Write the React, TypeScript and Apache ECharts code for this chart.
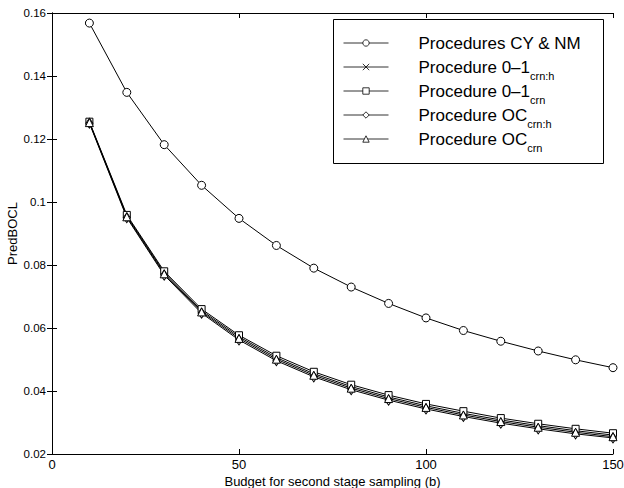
import React, { useEffect, useRef } from "react";
import * as echarts from "echarts";

const budgets = [10, 20, 30, 40, 50, 60, 70, 80, 90, 100, 110, 120, 130, 140, 150];
const cyNm = [0.1568, 0.1348, 0.1182, 0.1053, 0.0948, 0.0862, 0.079, 0.073, 0.0678, 0.0632, 0.0592, 0.0558, 0.0527, 0.0499, 0.0474];
const zeroOneCrnH = [0.1253, 0.0956, 0.0776, 0.0655, 0.0572, 0.0506, 0.0455, 0.0414, 0.0381, 0.0353, 0.0329, 0.0308, 0.029, 0.0274, 0.026];
const zeroOneCrn = [0.1255, 0.0959, 0.078, 0.066, 0.0577, 0.0512, 0.0461, 0.042, 0.0387, 0.0359, 0.0336, 0.0314, 0.0296, 0.028, 0.0266];
const ocCrnH = [0.125, 0.095, 0.0768, 0.0647, 0.0562, 0.0496, 0.0445, 0.0404, 0.0371, 0.0343, 0.0319, 0.0298, 0.028, 0.0264, 0.0251];
const ocCrn = [0.1252, 0.0953, 0.0772, 0.0651, 0.0567, 0.0501, 0.045, 0.0409, 0.0376, 0.0348, 0.0324, 0.0303, 0.0285, 0.0269, 0.0255];

const xTicks = [0, 50, 100, 150];
const yTickLabels = ["0.02", "0.04", "0.06", "0.08", "0.1", "0.12", "0.14", "0.16"];

const seriesNames = [
  "Procedures CY & NM",
  "Procedure 0–1|crn:h",
  "Procedure 0–1|crn",
  "Procedure OC|crn:h",
  "Procedure OC|crn",
];

const FONT = "'Liberation Sans', Arial, Helvetica, sans-serif";

export default function App() {
  const ref = useRef<HTMLDivElement>(null);
  useEffect(() => {
    if (!ref.current) return;
    const chart = echarts.init(ref.current, undefined, { renderer: "svg" });
    const pairs = (ys: number[]) => budgets.map((b, i) => [b, ys[i]]);
    const common = (name: string, ys: number[], symbol: string, size: any) => ({
      name,
      type: "line",
      data: pairs(ys),
      symbol,
      symbolSize: size,
      showSymbol: true,
      lineStyle: { color: "#000", width: 1 },
      itemStyle: { color: "#fff", borderColor: "#000", borderWidth: 1 },
      emphasis: { disabled: true },
      z: 3,
    });
    const axisLine = { show: true, lineStyle: { color: "#000", width: 1 } };
    const axisTick = { show: true, inside: true, length: 5, lineStyle: { color: "#000" } };
    chart.setOption({
      animation: false,
      backgroundColor: "#fff",
      grid: {
        left: 52,
        right: 11,
        top: 13,
        bottom: 34,
        containLabel: false,
        outerBoundsMode: "none",
      },
      xAxis: [
        {
          type: "value",
          min: 0,
          max: 150,
          interval: 50,
          position: "bottom",
          axisLine,
          axisTick,
          splitLine: { show: false },
          axisLabel: {
            color: "#000",
            fontSize: 13,
            fontFamily: FONT,
            margin: 4,
            formatter: (v: number) => (xTicks.includes(v) ? String(v) : ""),
          },
          name: "Budget for second stage sampling (b)",
          nameLocation: "middle",
          nameGap: 21,
          nameMoveOverlap: false,
          nameTextStyle: { color: "#000", fontSize: 13, fontFamily: FONT },
        },
        {
          type: "value",
          min: 0,
          max: 150,
          interval: 50,
          position: "top",
          axisLine,
          axisTick,
          splitLine: { show: false },
          axisLabel: { show: false },
        },
      ],
      yAxis: [
        {
          type: "value",
          min: 0.02,
          max: 0.16,
          interval: 0.02,
          position: "left",
          axisLine,
          axisTick,
          splitLine: { show: false },
          axisLabel: {
            color: "#000",
            fontSize: 11.5,
            fontFamily: FONT,
            margin: 6,
            formatter: (v: number) => {
              const i = Math.round((v - 0.02) / 0.02);
              return yTickLabels[i] ?? "";
            },
          },
          name: "PredBOCL",
          nameLocation: "middle",
          nameGap: 33,
          nameMoveOverlap: false,
          nameTextStyle: { color: "#000", fontSize: 13, fontFamily: FONT },
        },
        {
          type: "value",
          min: 0.02,
          max: 0.16,
          interval: 0.02,
          position: "right",
          axisLine,
          axisTick,
          splitLine: { show: false },
          axisLabel: { show: false },
        },
      ],
      legend: {
        show: true,
        orient: "vertical",
        left: 343,
        top: 29,
        padding: 0,
        itemGap: -4,
        itemWidth: 45,
        itemHeight: 8,
        selectedMode: false,
        data: seriesNames,
        lineStyle: { width: 1, color: "#333" },
        itemStyle: { borderWidth: 0.8 },
        formatter: (name: string) => {
          const parts = name.split("|");
          const sub = parts.length === 2 ? parts[1] : " ";
          return `{g|}{m|${parts[0]}}{s|${sub}}`;
        },
        textStyle: {
          color: "#000",
          fontFamily: FONT,
          lineHeight: 24,
          rich: {
            g: { width: 25, lineHeight: 24 },
            m: { fontSize: 17, lineHeight: 24, fontFamily: FONT, color: "#000" },
            s: {
              fontSize: 11,
              lineHeight: 2,
              verticalAlign: "middle",
              padding: [17, 0, 0, 0],
              fontFamily: FONT,
              color: "#000",
            },
          },
        },
      },
      graphic: [
        {
          type: "rect",
          shape: { x: 333.5, y: 19.5, width: 270, height: 144 },
          style: { fill: "#fff", stroke: "#000", lineWidth: 1 },
          z: 0,
          zlevel: 0,
          silent: true,
        },
      ],
      series: [
        common(seriesNames[0], cyNm, "circle", 8),
        common(seriesNames[1], zeroOneCrnH, "path://M0,0L10,10M10,0L0,10", 5),
        common(seriesNames[2], zeroOneCrn, "rect", 7),
        common(seriesNames[3], ocCrnH, "diamond", [7, 10]),
        common(seriesNames[4], ocCrn, "triangle", 8),
      ],
    });
    return () => chart.dispose();
  }, []);
  return (
    <div
      ref={ref}
      style={{ position: "absolute", left: 0, top: 0, width: 624, height: 488 }}
    />
  );
}
